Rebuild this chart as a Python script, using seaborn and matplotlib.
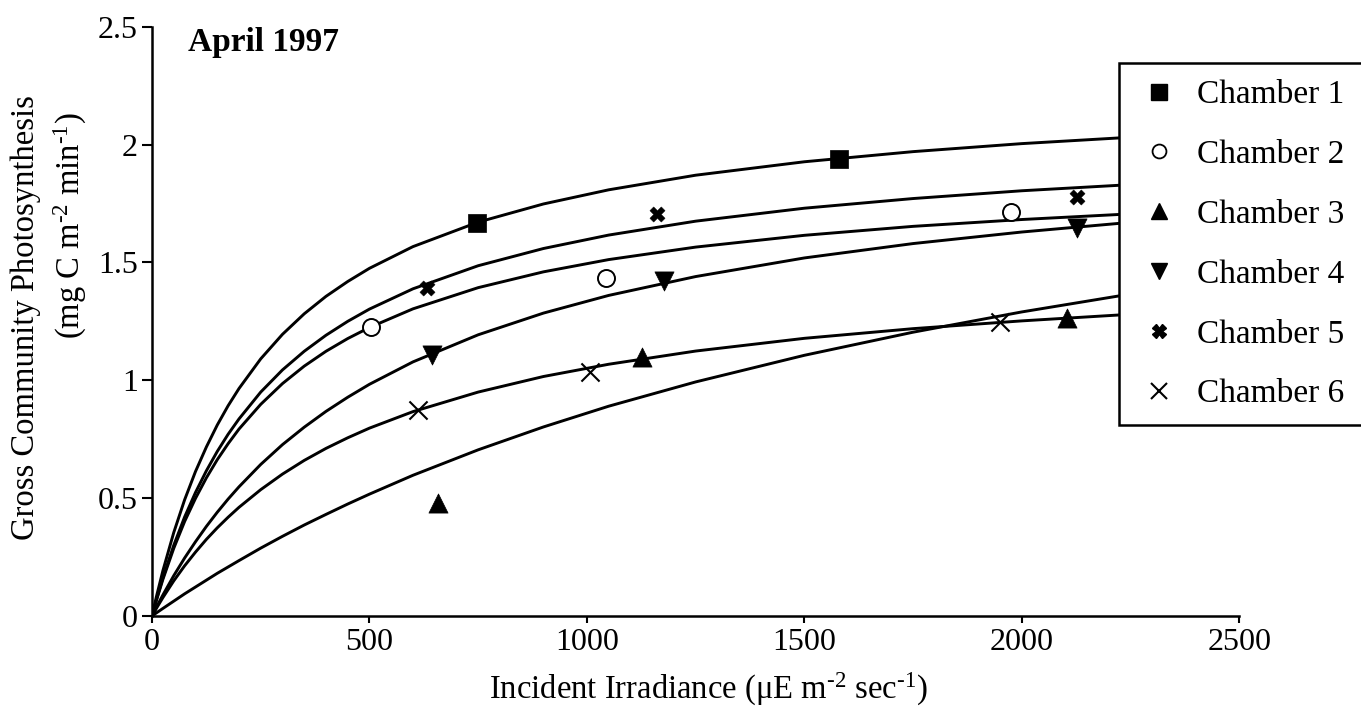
import matplotlib
matplotlib.use("Agg")
import matplotlib.pyplot as plt
from matplotlib.lines import Line2D
from matplotlib.patches import Rectangle
import numpy as np
import pandas as pd
import seaborn as sns

# ---------------- data ----------------
chambers = ["Chamber 1", "Chamber 2", "Chamber 3", "Chamber 4", "Chamber 5", "Chamber 6"]

# measured points
ch1_x = [747, 1580]
ch1_y = [1.669, 1.939]
ch2_x = [503, 1043, 1975]
ch2_y = [1.227, 1.435, 1.713]
ch3_x = [658, 1126, 2103]
ch3_y = [0.478, 1.098, 1.263]
ch4_x = [643, 1177, 2126]
ch4_y = [1.107, 1.421, 1.645]
ch5_x = [632, 1162, 2126]
ch5_y = [1.390, 1.706, 1.779]
ch6_x = [611, 1007, 1950]
ch6_y = [0.874, 1.037, 1.246]

# fitted curves
curve_x = [0, 10, 25, 50, 75, 100, 125, 150, 175, 200, 250, 300, 350, 400, 450,
           500, 600, 750, 900, 1050, 1250, 1500, 1750, 2000, 2250]
curve_ch1 = [0, 0.081, 0.192, 0.354, 0.493, 0.613, 0.717, 0.810, 0.892, 0.965,
             1.091, 1.195, 1.282, 1.356, 1.419, 1.475, 1.567, 1.671, 1.748,
             1.808, 1.870, 1.927, 1.970, 2.004, 2.031]
curve_ch2 = [0, 0.065, 0.155, 0.287, 0.401, 0.499, 0.586, 0.663, 0.731, 0.793,
             0.898, 0.986, 1.060, 1.123, 1.177, 1.224, 1.303, 1.393, 1.460,
             1.512, 1.565, 1.615, 1.653, 1.682, 1.706]
curve_ch3 = [0, 0.013, 0.032, 0.063, 0.094, 0.123, 0.152, 0.181, 0.208, 0.235,
             0.288, 0.338, 0.386, 0.431, 0.475, 0.517, 0.597, 0.705, 0.802,
             0.890, 0.993, 1.106, 1.204, 1.290, 1.366]
curve_ch4 = [0, 0.037, 0.089, 0.171, 0.246, 0.315, 0.380, 0.440, 0.496, 0.548,
             0.643, 0.727, 0.801, 0.868, 0.928, 0.983, 1.078, 1.193, 1.285,
             1.360, 1.440, 1.519, 1.580, 1.629, 1.670]
curve_ch5 = [0, 0.068, 0.162, 0.300, 0.420, 0.524, 0.616, 0.698, 0.771, 0.836,
             0.950, 1.044, 1.123, 1.191, 1.250, 1.302, 1.388, 1.486, 1.559,
             1.616, 1.675, 1.730, 1.771, 1.804, 1.830]
curve_ch6 = [0, 0.032, 0.078, 0.149, 0.213, 0.271, 0.325, 0.374, 0.419, 0.461,
             0.536, 0.602, 0.660, 0.711, 0.756, 0.797, 0.867, 0.950, 1.016,
             1.068, 1.124, 1.178, 1.219, 1.252, 1.280]

x_ticks = [0, 500, 1000, 1500, 2000, 2500]
x_tick_labels = ["0", "500", "1000", "1500", "2000", "2500"]
y_ticks = [0, 0.5, 1, 1.5, 2, 2.5]
y_tick_labels = ["0", "0.5", "1", "1.5", "2", "2.5"]

title_text = "April 1997"
xlabel_text = r"Incident Irradiance (μE m$^{\text{-2}}$ sec$^{\text{-1}}$)"
ylabel_line1 = "Gross Community Photosynthesis"
ylabel_line2 = r"(mg C m$^{\text{-2}}$ min$^{\text{-1}}$)"

# ---------------- styling ----------------
sns.set_style("ticks")
plt.rcParams["font.family"] = ["Liberation Serif", "DejaVu Serif"]
plt.rcParams["mathtext.fontset"] = "custom"
plt.rcParams["mathtext.rm"] = "Liberation Serif"
plt.rcParams["mathtext.it"] = "Liberation Serif:italic"
plt.rcParams["mathtext.bf"] = "Liberation Serif:bold"
plt.rcParams["text.color"] = "black"
plt.rcParams["axes.labelcolor"] = "black"
plt.rcParams["xtick.color"] = "black"
plt.rcParams["ytick.color"] = "black"
plt.rcParams["xtick.labelcolor"] = "black"
plt.rcParams["ytick.labelcolor"] = "black"

W, H = 1361, 714
fig = plt.figure(figsize=(W / 100, H / 100), dpi=100)
ax = fig.add_axes([152 / W, 1 - 616 / H, (1239.3 - 152) / W, (616 - 26.7) / H])

# curves
curves = [curve_ch1, curve_ch2, curve_ch3, curve_ch4, curve_ch5, curve_ch6]
curve_df = pd.concat(
    [pd.DataFrame({"irr": curve_x, "gpp": c, "chamber": name})
     for name, c in zip(chambers, curves)],
    ignore_index=True)
sns.lineplot(data=curve_df, x="irr", y="gpp", units="chamber", estimator=None,
             sort=False, color="black", linewidth=2.1, legend=False, ax=ax,
             zorder=2)

# points
pts = [(ch1_x, ch1_y), (ch2_x, ch2_y), (ch3_x, ch3_y),
       (ch4_x, ch4_y), (ch5_x, ch5_y), (ch6_x, ch6_y)]
styles = [
    dict(marker="s", s=170, color="black", edgecolor="black", linewidth=0.5),
    dict(marker="o", s=150, color="black", facecolor="white", edgecolor="black", linewidth=1.4),
    dict(marker="^", s=190, color="black", edgecolor="black", linewidth=0.5),
    dict(marker="v", s=190, color="black", edgecolor="black", linewidth=0.5),
    dict(marker="X", s=120, color="black", edgecolor="black", linewidth=0.3),
    dict(marker="x", s=170, color="black", linewidth=1.5),
]
for (px, py), st in zip(pts, styles):
    sns.scatterplot(x=px, y=py, ax=ax, zorder=3, legend=False, **st)

# axes
ax.set_xlim(0, 2500)
ax.set_ylim(0, 2.5)
ax.set_xticks(x_ticks)
ax.set_xticklabels(x_tick_labels)
ax.set_yticks(y_ticks)
ax.set_yticklabels(y_tick_labels)
ax.set_xlabel("")
ax.set_ylabel("")
for side in ["top", "right"]:
    ax.spines[side].set_visible(False)
for side in ["left", "bottom"]:
    ax.spines[side].set_linewidth(1.8)
    ax.spines[side].set_color("black")
ax.tick_params(axis="x", direction="out", length=5, width=1.5, labelsize=23,
               pad=4, colors="black")
ax.tick_params(axis="y", direction="out", length=7, width=1.5, labelsize=23,
               pad=3, colors="black")

# texts
fig.text(188 / W, 1 - 42 / H, title_text, fontsize=24, fontweight="bold",
         ha="left", va="center", color="black")
fig.text(708 / W, 1 - 689 / H, xlabel_text, fontsize=23.5, ha="center",
         va="center", color="black")
fig.text(26 / W, 1 - 318 / H, ylabel_line1, fontsize=23.5, rotation=90,
         ha="center", va="center", color="black")
fig.text(70 / W, 1 - 226 / H, ylabel_line2, fontsize=23.5, rotation=90,
         ha="center", va="center", color="black")

# legend box: white panel with border on top, left and bottom only
bx0, by0 = 1119 / W, 1 - 425 / H
bx1, by1 = 1.2, 1 - 63 / H
box = Rectangle((bx0, by0), bx1 - bx0, by1 - by0, transform=fig.transFigure,
                facecolor="white", edgecolor="none", clip_on=False, zorder=9)
ax.add_artist(box)
border = Line2D([bx1, bx0, bx0, bx1], [by1, by1, by0, by0],
                transform=fig.transFigure, color="black", linewidth=1.8,
                solid_joinstyle="miter", clip_on=False, zorder=9.5)
ax.add_artist(border)

handles = [
    Line2D([], [], ls="", marker="s", ms=11, color="black"),
    Line2D([], [], ls="", marker="o", ms=10, mfc="white", mec="black", mew=1.3),
    Line2D([], [], ls="", marker="^", ms=12, color="black"),
    Line2D([], [], ls="", marker="v", ms=12, color="black"),
    Line2D([], [], ls="", marker="X", ms=10, color="black"),
    Line2D([], [], ls="", marker="x", ms=12, color="black", mew=1.5),
]
leg = ax.legend(handles, chambers, loc="upper left",
                bbox_to_anchor=(bx0, by0, 400 / W, by1 - by0),
                bbox_transform=fig.transFigure, mode="expand", borderaxespad=0,
                frameon=False, fontsize=24, handlelength=1.4,
                handletextpad=0.45, borderpad=0.5, labelspacing=0.88)
leg.set_zorder(10)
for t in leg.get_texts():
    t.set_color("black")

fig.savefig("out.png", dpi=100, facecolor="white")
